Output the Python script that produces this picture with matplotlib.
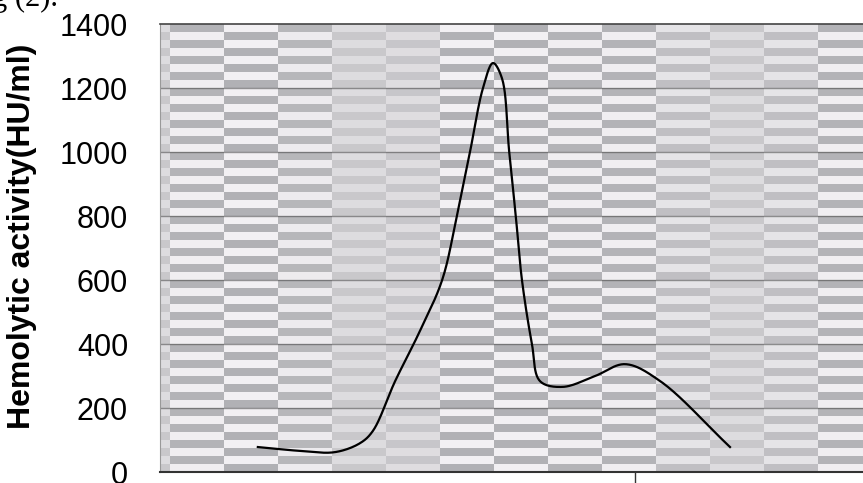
import numpy as np
import matplotlib
matplotlib.use("Agg")
import matplotlib.pyplot as plt

# ---- data (fraction position, hemolytic activity) ----
fraction = [2.06, 2.95, 3.68, 4.21, 4.48, 4.95, 5.47, 5.94, 6.25, 6.53, 6.80,
            7.01, 7.20, 7.35, 7.49, 7.62, 7.83, 8.00, 8.48, 9.16, 9.79, 10.53, 12.00]
activity = [78, 66, 62, 90, 128, 284, 440, 600, 800, 1003, 1200,
            1278, 1230, 1003, 800, 600, 400, 284, 266, 300, 337, 284, 78]
yticks = [0, 200, 400, 600, 800, 1000, 1200, 1400]
ylabel = "Hemolytic activity(HU/ml)"
caption = "g (2)."

W, H, DPI = 863, 483, 100
fig = plt.figure(figsize=(W / DPI, H / DPI), dpi=DPI)
fig.patch.set_facecolor("white")

left_px, right_px, top_px, bottom_px = 160, 863, 24, 472
ax = fig.add_axes([left_px / W, 1 - bottom_px / H,
                   (right_px - left_px) / W, (bottom_px - top_px) / H])
xmax = (right_px - left_px) / 47.5
ax.set_xlim(0, xmax)
ax.set_ylim(0, 1400)

# ---- patterned background (decoration, like the scanned Excel fill) ----
pw, ph = right_px - left_px, bottom_px - top_px
img = np.zeros((ph, pw, 3))
contrast = [0.9, 0.95, 0.8, 0.3, 0.35, 0.95, 0.95, 0.9, 0.9, 0.55, 0.3, 0.55, 0.9, 0.9]
dark = np.array([176, 176, 180]) / 255
light = np.array([244, 242, 245]) / 255
mid = np.array([212, 211, 214]) / 255
for px in range(pw):
    col = -1 if px < 10 else (px - 10) // 54
    c = 0.3 if col < 0 else contrast[min(col, len(contrast) - 1)]
    for r0 in range(0, ph, 8):
        on = ((r0 // 8) + col) % 2 == 0
        base = dark if on else light
        img[r0:r0 + 8, px] = mid + (base - mid) * c
ax.imshow(img, extent=[0, xmax, 0, 1400], aspect="auto", zorder=0,
          interpolation="nearest")

# gridlines
for v in yticks[1:-1]:
    ax.axhline(v, color="#444444", lw=1.0, alpha=0.55, zorder=1)


# ---- smooth line (centripetal Catmull-Rom through the data points) ----
def catmull_rom(xs, ys, sx, sy, n=24, alpha=0.5):
    P = np.column_stack([np.asarray(xs) * sx, np.asarray(ys) * sy]).astype(float)
    P = np.vstack([2 * P[0] - P[1], P, 2 * P[-1] - P[-2]])
    out = []
    for i in range(1, len(P) - 2):
        p0, p1, p2, p3 = P[i - 1], P[i], P[i + 1], P[i + 2]
        t0 = 0.0
        t1 = t0 + np.linalg.norm(p1 - p0) ** alpha
        t2 = t1 + np.linalg.norm(p2 - p1) ** alpha
        t3 = t2 + np.linalg.norm(p3 - p2) ** alpha
        t = np.linspace(t1, t2, n, endpoint=False)[:, None]
        a1 = (t1 - t) / (t1 - t0) * p0 + (t - t0) / (t1 - t0) * p1
        a2 = (t2 - t) / (t2 - t1) * p1 + (t - t1) / (t2 - t1) * p2
        a3 = (t3 - t) / (t3 - t2) * p2 + (t - t2) / (t3 - t2) * p3
        b1 = (t2 - t) / (t2 - t0) * a1 + (t - t0) / (t2 - t0) * a2
        b2 = (t3 - t) / (t3 - t1) * a2 + (t - t1) / (t3 - t1) * a3
        c = (t2 - t) / (t2 - t1) * b1 + (t - t1) / (t2 - t1) * b2
        out.append(c)
    out.append(P[-2][None, :])
    C = np.vstack(out)
    return C[:, 0] / sx, C[:, 1] / sy

cx, cy = catmull_rom(fraction, activity, 47.5, 0.32)
ax.plot(cx, cy, color="black", lw=1.6, zorder=3)

# ---- axes styling ----
ax.spines["right"].set_visible(False)
ax.spines["top"].set_color("#444444")
ax.spines["top"].set_linewidth(1.2)
ax.spines["bottom"].set_color("#333333")
ax.spines["bottom"].set_linewidth(1.5)
ax.spines["left"].set_color("#999999")
ax.spines["left"].set_linewidth(0.8)

ax.set_yticks(yticks)
ax.set_yticklabels([str(v) for v in yticks], fontsize=22, family="Liberation Sans")
ax.tick_params(axis="y", length=0, pad=23)
ax.set_xticks([10])
ax.set_xticklabels([""])
ax.tick_params(axis="x", direction="out", length=8, width=1, color="#333333")

fig.text(22 / W, 1 - 236 / H, ylabel, rotation=90, fontsize=23, fontweight="bold",
         family="Liberation Sans", ha="center", va="center")
fig.text(-8 / W, 1 - 6 / H, caption, fontsize=22, family="Liberation Serif",
         ha="left", va="baseline")

fig.savefig("out.png", dpi=DPI, facecolor="white")
